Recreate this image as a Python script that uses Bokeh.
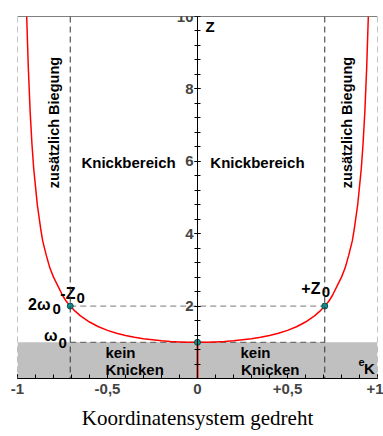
import numpy as np
from bokeh.plotting import figure
from bokeh.models import (Range1d, LinearAxis, FixedTicker, Span)
from bokeh.core.properties import value
from bokeh.embed import file_html
from bokeh.resources import INLINE

# ---- data ----
e_curve = [-0.949, -0.94, -0.93, -0.92, -0.91, -0.90, -0.89, -0.87, -0.86, -0.84, -0.82,
           -0.80, -0.78, -0.75, -0.73, -0.707, -0.68, -0.65, -0.60, -0.55, -0.50, -0.45,
           -0.40, -0.35, -0.30, -0.25, -0.20, -0.15, -0.10, -0.05, 0.0,
           0.05, 0.10, 0.15, 0.20, 0.25, 0.30, 0.35, 0.40, 0.45, 0.50, 0.55, 0.60, 0.65,
           0.68, 0.707, 0.73, 0.75, 0.78, 0.80, 0.82, 0.84, 0.86, 0.87, 0.89, 0.90, 0.91,
           0.92, 0.93, 0.94, 0.949]
z_curve = [10.0, 8.6, 7.4, 6.5, 5.8, 5.3, 4.8, 4.1, 3.8, 3.4, 3.05,
           2.8, 2.6, 2.3, 2.14, 2.0, 1.86, 1.73, 1.56, 1.43, 1.33, 1.25,
           1.19, 1.14, 1.1, 1.07, 1.04, 1.02, 1.01, 1.0, 1.0,
           1.0, 1.01, 1.02, 1.04, 1.07, 1.1, 1.14, 1.19, 1.25, 1.33, 1.43, 1.56, 1.73,
           1.86, 2.0, 2.14, 2.3, 2.6, 2.8, 3.05, 3.4, 3.8, 4.1, 4.8, 5.3, 5.8,
           6.5, 7.4, 8.6, 10.0]
z0 = 0.707          # e at which z = 2*omega0
omega0 = 1.0
e_min, e_max = -1.0, 1.0
z_min, z_max = 0.0, 10.0
point_e = [-z0, 0.0, z0]
point_z = [2 * omega0, omega0, 2 * omega0]

x_ticks = [-1, -0.5, 0, 0.5, 1]
x_tick_labels = ["-1", "-0,5", "0", "+0,5", "+1"]
x_minor = [round(-1 + 0.1 * i, 2) for i in range(21)]
y_ticks = [2, 4, 6, 8, 10]
y_tick_labels = ["2", "4", "6", "8", "10"]
y_minor = [round(0.4 * i, 2) for i in range(26)]
caption = "Koordinatensystem gedreht"

FONT = value("Liberation Sans")

p = figure(width=383, height=436, output_backend="svg", toolbar_location=None,
           x_range=Range1d(e_min, e_max), y_range=Range1d(z_min, z_max),
           x_axis_type=None, y_axis_type=None,
           min_border_left=17, min_border_right=6, min_border_top=16, min_border_bottom=58)
p.outline_line_color = None
p.xgrid.visible = False
p.ygrid.visible = False
p.background_fill_color = "white"
p.border_fill_color = "white"

# grey "kein Knicken" band
p.quad(left=[e_min], right=[e_max], bottom=[z_min], top=[omega0],
       fill_color="#c0c0c0", line_color=None)

# frame-type lines
p.add_layout(Span(location=z_max, dimension="width", line_color="black", line_width=1))
for loc in (e_min, e_max):
    p.add_layout(Span(location=loc, dimension="height", line_color="#8a8a8a",
                      line_width=1, line_dash="6 4"))
for loc in (-z0, z0):
    p.add_layout(Span(location=loc, dimension="height", line_color="#333333",
                      line_width=1, line_dash="6 4"))

# horizontal dashed helper lines
p.segment(x0=[-z0, -z0], x1=[z0 + 0.03, z0], y0=[2 * omega0, omega0], y1=[2 * omega0, omega0],
          line_color=["#7a7a7a", "#555555"], line_width=1, line_dash="6 4")

# curve
p.line(e_curve, z_curve, line_color="#ff0000", line_width=1.5)
p.segment(x0=[0.0], x1=[0.0], y0=[z_min], y1=[omega0], line_color="#ff0000", line_width=2)
p.scatter(point_e, point_z, size=6, fill_color="#138a8a", line_color="#0b4f4f", line_width=1)

# axes
xaxis = LinearAxis(ticker=FixedTicker(ticks=x_ticks, minor_ticks=x_minor))
xaxis.major_label_overrides = {t: l for t, l in zip(x_ticks, x_tick_labels)}
xaxis.major_tick_in = 4
xaxis.major_tick_out = 0
xaxis.minor_tick_in = 4
xaxis.minor_tick_out = 0
xaxis.major_label_text_font = "Liberation Sans"
xaxis.major_label_text_font_style = "bold"
xaxis.major_label_text_font_size = "15px"
xaxis.major_label_standoff = 5
xaxis.axis_line_color = "black"
xaxis.axis_label = caption
xaxis.axis_label_text_font = "Liberation Serif"
xaxis.axis_label_text_font_size = "21px"
xaxis.axis_label_text_font_style = "normal"
xaxis.axis_label_text_color = "black"
xaxis.axis_label_standoff = 9
p.add_layout(xaxis, "below")

yaxis = LinearAxis(ticker=FixedTicker(ticks=y_ticks, minor_ticks=y_minor), fixed_location=0)
yaxis.major_label_overrides = {t: l for t, l in zip(y_ticks, y_tick_labels)}
yaxis.major_tick_in = 3
yaxis.major_tick_out = 3
yaxis.minor_tick_in = 3
yaxis.minor_tick_out = 3
yaxis.major_label_text_font = "Liberation Sans"
yaxis.major_label_text_font_style = "bold"
yaxis.major_label_text_font_size = "15px"
yaxis.major_label_standoff = 1
p.add_layout(yaxis, "left")

# texts
def txt(x, y, s, size="15px", align="left", baseline="alphabetic", angle=0.0, style="bold"):
    p.text(x=[x], y=[y], text=[s], text_font=FONT, text_font_size=size,
           text_font_style=style, text_align=align, text_baseline=baseline,
           angle=angle, text_color="black")

txt(0.044, 9.72, "Z", size="15px")
txt(-0.383, 5.96, "Knickbereich", align="center")
txt(0.333, 5.96, "Knickbereich", align="center")
txt(-0.8, 7.07, "zusätzlich Biegung", size="14.5px", align="center", baseline="middle", angle=np.pi / 2)
txt(0.828, 7.07, "zusätzlich Biegung", size="14.5px", align="center", baseline="middle", angle=np.pi / 2)
txt(-0.511, 0.71, "kein")
txt(-0.511, 0.24, "Knicken")
txt(0.239, 0.71, "kein")
txt(0.242, 0.24, "Knicken")
txt(0.895, 0.46, "e", size="11px")
txt(0.925, 0.27, "K", size="15px")
txt(-0.678, 2.34, "-Z", size="16px", align="right")
txt(-0.672, 2.21, "0", size="15px")
txt(0.683, 2.49, "+Z", size="16px", align="right")
txt(0.69, 2.40, "0", size="15px")
txt(-0.817, 2.05, "2\u03c9", size="16px", align="right")
txt(-0.806, 1.93, "0", size="15px")
txt(-0.778, 1.18, "\u03c9", size="16px", align="right")
txt(-0.772, 0.99, "0", size="15px")

open("out.html", "w").write(file_html(p, INLINE))
